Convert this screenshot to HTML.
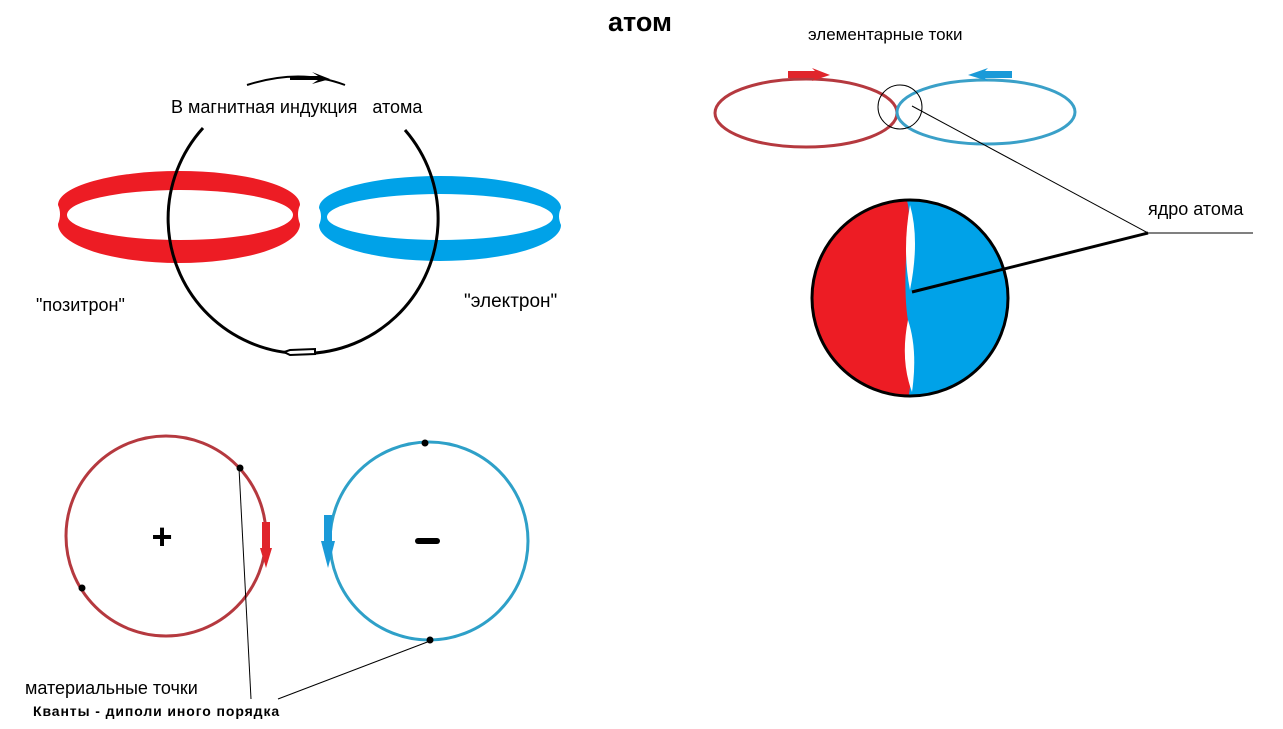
<!DOCTYPE html>
<html><head><meta charset="utf-8"><style>
html,body{margin:0;padding:0;background:#fff;}
svg{display:block;font-family:"Liberation Sans","DejaVu Sans",sans-serif;}
</style></head><body>
<svg width="1283" height="729" viewBox="0 0 1283 729" xmlns="http://www.w3.org/2000/svg">
<rect width="1283" height="729" fill="#fff"/>
<text x="640" y="31" font-size="27" font-weight="bold" text-anchor="middle" fill="#000">атом</text>

<path d="M58,205 A121,34 0 0 1 300,205 Q296,214 300,224 A121,39 0 0 1 58,224 Q62,214 58,205 Z" fill="#ed1c24"/>
<ellipse cx="180" cy="215" rx="113" ry="25" fill="#fff"/>
<path d="M319,208 A121,32 0 0 1 561,208 Q557,216 561,225 A121,36 0 0 1 319,225 Q323,216 319,208 Z" fill="#00a2e8"/>
<ellipse cx="440" cy="217" rx="113" ry="23" fill="#fff"/>

<path d="M203,128 A135,135 0 1 0 405,130" fill="none" stroke="#000" stroke-width="3"/>
<path d="M247,85 Q300,68 345,85" fill="none" stroke="#000" stroke-width="2"/>
<path d="M290,76 L318,76 L312,72 L330,79 L312,84 L318,80 L290,80 Z" fill="#000"/>
<path d="M290,350 L315,349 L315,354 L290,355 L284,352 Z" fill="#fff" stroke="#000" stroke-width="2"/>
<text x="171" y="113" font-size="18" fill="#000">В магнитная индукция &#160; атома</text>

<text x="36" y="311" font-size="18" fill="#000">"позитрон"</text>
<text x="464" y="307" font-size="19" fill="#000">"электрон"</text>

<ellipse cx="806" cy="113" rx="91" ry="34" fill="none" stroke="#b5393f" stroke-width="3"/>
<ellipse cx="986" cy="112" rx="89" ry="32" fill="none" stroke="#3aa0c8" stroke-width="3"/>
<path d="M788,71 L815,71 L812,68 L830,75 L812,81 L815,78 L788,78 Z" fill="#e0252c"/>
<path d="M1012,71 L985,71 L988,68 L968,75 L988,81 L985,78 L1012,78 Z" fill="#1a9ad8"/>
<circle cx="900" cy="107" r="22" fill="none" stroke="#000" stroke-width="1"/>
<text x="808" y="40" font-size="17" fill="#000">элементарные токи</text>
<line x1="912" y1="106" x2="1148" y2="233" stroke="#000" stroke-width="1"/>
<line x1="1148" y1="233" x2="1253" y2="233" stroke="#000" stroke-width="1"/>
<text x="1148" y="215" font-size="18" fill="#000">ядро атома</text>

<clipPath id="cc"><circle cx="910" cy="298" r="98"/></clipPath>
<g clip-path="url(#cc)">
<rect x="800" y="190" width="220" height="220" fill="#00a2e8"/>
<path d="M800,190 L900,190 Q912,200 908,230 Q902,300 910,330 Q915,370 906,410 L800,410 Z" fill="#ed1c24"/>
<path d="M910,205 Q920,240 910,290 Q902,250 910,205 Z" fill="#fff"/>
<path d="M908,320 Q918,350 912,392 Q900,360 908,320 Z" fill="#fff"/>
</g>
<circle cx="910" cy="298" r="98" fill="none" stroke="#000" stroke-width="3"/>
<line x1="912" y1="292" x2="1148" y2="233" stroke="#000" stroke-width="3"/>

<circle cx="166" cy="536" r="100" fill="none" stroke="#b5393f" stroke-width="3"/>
<circle cx="429" cy="541" r="99" fill="none" stroke="#2ea0c8" stroke-width="3"/>
<rect x="262" y="522" width="8" height="30" fill="#e0252c"/>
<path d="M260,548 L272,548 L266,568 Z" fill="#e0252c"/>
<rect x="324" y="515" width="8" height="30" fill="#1a9ad8"/>
<path d="M321,541 L335,541 L328,568 Z" fill="#1a9ad8"/>
<text x="162" y="549" font-size="36" font-weight="bold" text-anchor="middle" fill="#000">+</text>
<rect x="415" y="538" width="25" height="6" rx="3" fill="#000"/>
<circle cx="240" cy="468" r="3.5" fill="#000"/>
<circle cx="82" cy="588" r="3.5" fill="#000"/>
<circle cx="425" cy="443" r="3.5" fill="#000"/>
<circle cx="430" cy="640" r="3.5" fill="#000"/>
<line x1="239" y1="468" x2="251" y2="699" stroke="#000" stroke-width="1"/>
<line x1="430" y1="641" x2="278" y2="699" stroke="#000" stroke-width="1"/>
<text x="25" y="694" font-size="18" fill="#000">материальные точки</text>
<text x="33" y="716" font-size="14" font-weight="bold" letter-spacing="0.9" fill="#000">Кванты - диполи иного порядка</text>
</svg>
</body></html>
